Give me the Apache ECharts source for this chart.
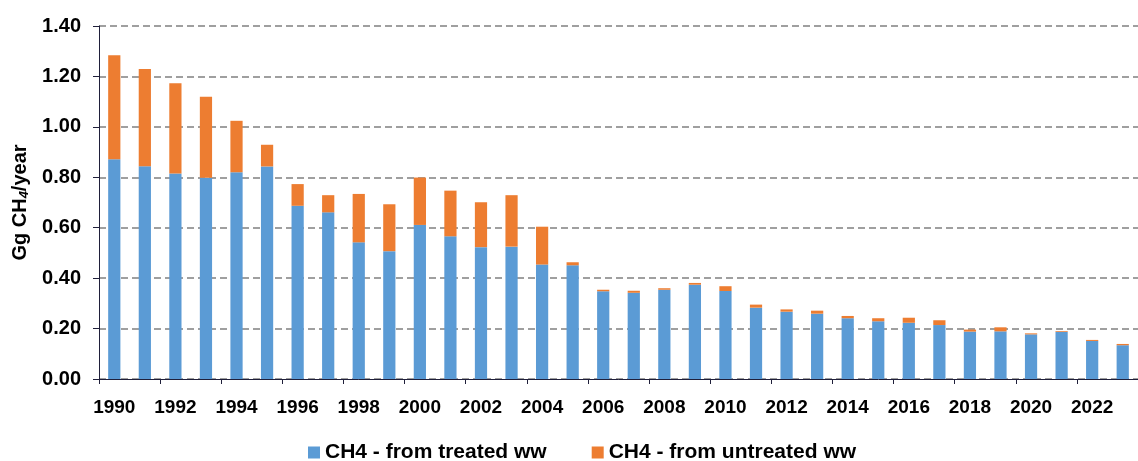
<!DOCTYPE html>
<html>
<head>
<meta charset="utf-8">
<script src="https://cdn.jsdelivr.net/npm/echarts@6/dist/echarts.min.js"></script>
<style>html,body{margin:0;padding:0;background:#fff}#c{width:1138px;height:461px}</style>
</head>
<body>
<div id="c"></div>
<script>
const years = ['1990','1991','1992','1993','1994','1995','1996','1997','1998','1999','2000','2001','2002','2003','2004','2005','2006','2007','2008','2009','2010','2011','2012','2013','2014','2015','2016','2017','2018','2019','2020','2021','2022','2023'];
const treated = [0.872,0.844,0.815,0.798,0.820,0.843,0.687,0.661,0.542,0.507,0.611,0.566,0.523,0.525,0.454,0.451,0.348,0.342,0.354,0.374,0.349,0.283,0.267,0.259,0.241,0.229,0.223,0.214,0.188,0.189,0.177,0.187,0.151,0.134];
const totals = [1.284,1.229,1.173,1.119,1.024,0.929,0.773,0.729,0.734,0.693,0.799,0.747,0.701,0.729,0.604,0.463,0.354,0.350,0.360,0.381,0.368,0.295,0.276,0.271,0.250,0.241,0.243,0.233,0.196,0.205,0.181,0.190,0.155,0.139];
const untreated = totals.map((t,i)=>+(t - treated[i]).toFixed(3));
const seriesNames = ['CH4 - from treated ww','CH4 - from untreated ww'];

const font = '"Liberation Sans", Arial, sans-serif';
const chart = echarts.init(document.getElementById('c'));
chart.setOption({
  animation:false,
  grid:{left:99,right:0,top:26,bottom:82,containLabel:false},
  legend:{
    top:442,left:308,itemWidth:12,itemHeight:12,itemGap:45,padding:0,
    icon:'rect',
    textStyle:{fontFamily:font,fontWeight:'bold',fontSize:21,color:'#000'},
    data:seriesNames
  },
  xAxis:{
    type:'category',data:years,
    axisLine:{lineStyle:{color:'#1f1f3a',width:1}},
    axisTick:{show:true,interval:1,length:5,lineStyle:{color:'#1f1f3a'}},
    axisLabel:{interval:1,margin:19,fontFamily:font,fontWeight:'bold',fontSize:19,color:'#000'}
  },
  yAxis:{
    type:'value',min:0,max:1.4,interval:0.2,
    name:'{a|Gg CH}{s|4}{a|/year}',
    nameLocation:'middle',nameGap:67,nameRotate:90,
    nameTextStyle:{rich:{
      a:{fontFamily:font,fontWeight:'bold',fontSize:20,color:'#000'},
      s:{fontFamily:font,fontWeight:'bold',fontStyle:'italic',fontSize:13,color:'#000',verticalAlign:'bottom',padding:[8,0,0,0]}
    }},
    axisLine:{show:true,lineStyle:{color:'#1f1f3a',width:1}},
    axisTick:{show:true,length:6,lineStyle:{color:'#1f1f3a'}},
    axisLabel:{margin:18,formatter:v=>v.toFixed(2),fontFamily:font,fontWeight:'bold',fontSize:20,color:'#000'},
    splitLine:{show:true,lineStyle:{color:'#808080',type:[7,4],width:1.5}}
  },
  series:[
    {name:seriesNames[0],type:'bar',stack:'a',data:treated,barWidth:'40%',itemStyle:{color:'#5B9BD5'}},
    {name:seriesNames[1],type:'bar',stack:'a',data:untreated,barWidth:'40%',itemStyle:{color:'#ED7D31'}}
  ]
});
</script>
</body>
</html>
